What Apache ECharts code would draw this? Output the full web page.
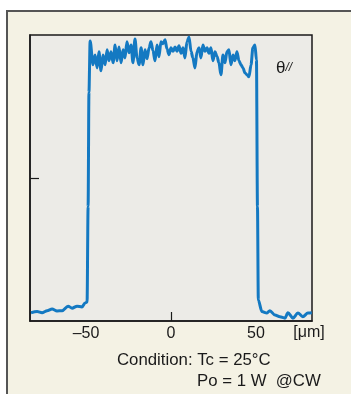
<!DOCTYPE html>
<html>
<head>
<meta charset="utf-8">
<script src="https://cdn.jsdelivr.net/npm/echarts@6/dist/echarts.min.js"></script>
<style>
  html, body { margin: 0; padding: 0; background: #fff; }
  #chart { width: 351px; height: 394px; }
</style>
</head>
<body>
<div id="chart"></div>
<script>
// position across the beam [um]
const positions = [
  -82.4, -78.8, -75.9, -72.9, -70.0, -67.1, -64.1, -60.6, -58.2, -55.3, -52.4, -50.6, -49.4,
  -48.8, -48.3, -47.6,
  -45.9, -44.7, -43.5, -42.4, -41.2, -40.0, -38.8, -37.6, -36.5, -35.3, -34.1, -32.9, -31.8,
  -30.6, -29.4, -28.2, -27.1, -25.9, -24.7, -23.5, -22.4, -21.2, -20.0, -18.8, -17.6, -16.5,
  -15.3, -14.1, -12.9, -11.8, -10.6, -9.4, -8.2, -7.1, -5.9, -4.7, -3.5, -2.4, -1.2, 0,
  1.2, 2.4, 3.5, 4.7, 5.9, 7.1, 8.2, 9.4, 10.6, 11.8, 12.9, 14.1, 15.3, 16.5, 17.6, 18.8,
  20.0, 21.2, 22.4, 23.5, 24.7, 25.9, 27.1, 28.2, 29.4, 30.6, 31.8, 32.9, 34.1, 35.3, 36.5,
  37.6, 38.8, 40.0, 41.2, 42.4, 43.5, 44.7, 45.9, 47.1, 48.2, 49.4, 50.3,
  50.9, 51.4, 53.5, 56.5, 58.2, 61.2, 64.1, 67.1, 68.8, 71.8, 74.7, 77.6, 80.6, 82.9
];
// relative intensity [%]
const intensity = [
  2.9, 3.3, 2.9, 3.6, 4.2, 3.5, 3.6, 5.2, 4.5, 5.2, 4.9, 6.3, 6.6,
  40, 80, 97.9,
  89.6, 93.0, 88.5, 94.1, 87.5, 93.0, 89.6, 94.8, 91.0, 94.1, 90.3, 96.5, 91.0,
  95.8, 90.3, 94.8, 92.0, 97.6, 93.8, 96.5, 90.3, 98.6, 92.0, 89.6, 95.5, 89.6,
  94.8, 91.7, 95.5, 97.6, 94.5, 91.0, 96.5, 92.4, 97.6, 96.9, 98.3, 95.2, 93.1, 95.5,
  94.3, 95.8, 94.3, 96.2, 93.6, 95.5, 92.0, 97.6, 99.3, 94.3, 92.0, 88.5, 94.1, 95.5, 92.0, 96.5,
  94.3, 95.5, 93.6, 95.5, 91.0, 94.1, 92.5, 90.3, 86.1, 93.0, 90.3, 94.1, 94.8, 89.6, 93.0,
  91.0, 94.1, 91.0, 89.6, 88.5, 86.8, 86.1, 85.4, 89.5, 95.5, 96.5, 91.3,
  40, 7.3, 3.3, 2.8, 3.6, 2.1, 1.5, 1.0, 2.9, 1.0, 2.8, 1.5, 2.8, 2.9
];
const xLabelValues = [-50, 0, 50];
const xTickValues = [0];
const yTickValues = [50];

const chart = echarts.init(document.getElementById("chart"));
const font = "'Liberation Sans', Arial, sans-serif";

const option = {
  backgroundColor: "#ffffff",
  animation: false,
  textStyle: { fontFamily: font },
  grid: {
    left: 30,
    top: 35,
    width: 282,
    height: 286,
    show: true,
    backgroundColor: "#ecebe7",
    borderColor: "#1a1a1a",
    borderWidth: 1.5,
  },
  xAxis: {
    type: "value",
    min: -83,
    max: 83,
    axisLine: { show: true, onZero: false, lineStyle: { color: "#1a1a1a", width: 1.5 } },
    axisTick: {
      show: true,
      inside: true,
      length: 9,
      customValues: xTickValues,
      lineStyle: { color: "#1a1a1a", width: 1.2 },
    },
    axisLabel: {
      customValues: xLabelValues,
      margin: 5,
      fontSize: 16,
      color: "#1a1a1a",
      fontFamily: font,
      formatter: (v) => (v < 0 ? "\u2013" + Math.abs(v) : String(v)),
    },
    splitLine: { show: false },
  },
  yAxis: {
    type: "value",
    min: 0,
    max: 100,
    axisLine: { show: true, onZero: false, lineStyle: { color: "#1a1a1a", width: 1.5 } },
    axisTick: {
      show: true,
      inside: true,
      length: 9,
      customValues: yTickValues,
      lineStyle: { color: "#1a1a1a", width: 1.2 },
    },
    axisLabel: { show: false },
    splitLine: { show: false },
  },
  graphic: [
    {
      type: "rect",
      z: -100,
      shape: { x: 7, y: 11, width: 360, height: 400 },
      style: { fill: "#f4f2e4", stroke: "#555555", lineWidth: 2 },
    },
    {
      type: "text",
      x: 309,
      y: 333,
      style: {
        text: "[\u03bcm]",
        font: "16px " + font,
        fill: "#1a1a1a",
        align: "center",
        verticalAlign: "middle",
      },
    },
    {
      type: "text",
      x: 117,
      y: 360,
      style: {
        text: "Condition: Tc = 25\u00b0C",
        font: "16.8px " + font,
        fill: "#1a1a1a",
        align: "left",
        verticalAlign: "middle",
      },
    },
    {
      type: "text",
      x: 197,
      y: 381,
      style: {
        text: "Po = 1 W  @CW",
        font: "16.8px " + font,
        fill: "#1a1a1a",
        align: "left",
        verticalAlign: "middle",
      },
    },
    {
      type: "text",
      x: 276,
      y: 68,
      style: {
        rich: {
          t: { fontSize: 17, fontFamily: font, fill: "#1a1a1a" },
          s: { fontSize: 12, fontFamily: font, fontStyle: "italic", fill: "#1a1a1a" },
        },
        text: "{t|\u03b8}{s|//}",
        verticalAlign: "middle",
      },
    },
  ],
  series: [
    {
      type: "line",
      data: positions.map((x, i) => [x, intensity[i]]),
      showSymbol: false,
      smooth: 0.3,
      smoothMonotone: "x",
      lineStyle: { color: "#1479c2", width: 3 },
      clip: true,
    },
  ],
};

option && chart.setOption(option);
</script>
</body>
</html>
